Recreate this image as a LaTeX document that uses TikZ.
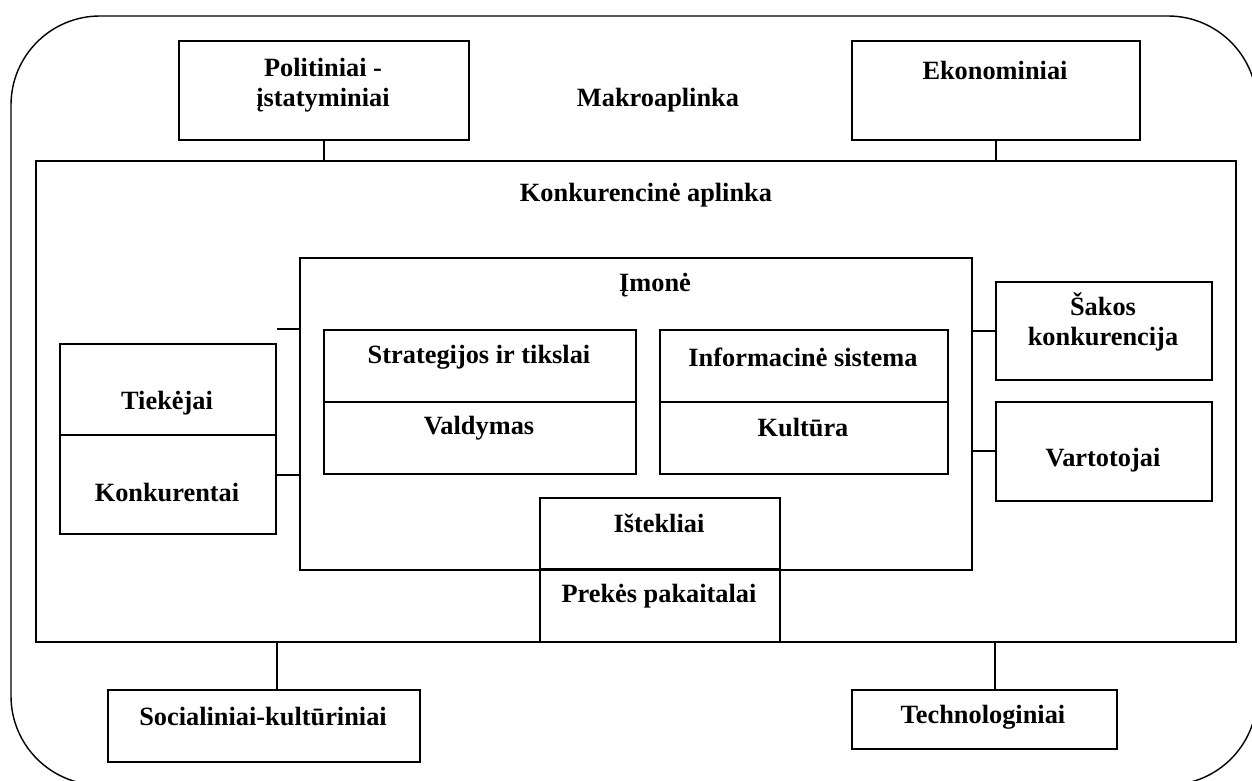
\documentclass[tikz,border=0pt]{standalone}
\usepackage{fontspec}
\setmainfont{Liberation Serif}
\usetikzlibrary{positioning}

\begin{document}
\begin{tikzpicture}[x=0.02cm,y=-0.02cm,
    box/.style={draw, line width=1.1pt, inner sep=0pt, anchor=north west},
    txt/.style={font=\bfseries\fontsize{15}{17}\selectfont, align=center, inner sep=0pt},
    link/.style={line width=1.1pt}]

            \useasboundingbox (0,0) rectangle (1252,781);
            \draw [line width=0.8pt, rounded corners=1.78cm] (11,16) rectangle (1257,785);

            \path   (178,40)  node (pol)    [box, minimum width=5.8cm,  minimum height=1.98cm] {}
                    (851,40)  node (eko)    [box, minimum width=5.76cm, minimum height=1.98cm] {}
                    (35,160)  node (konk)   [box, minimum width=24cm,   minimum height=9.62cm] {}
                    (299,257) node (imone)  [box, minimum width=13.44cm, minimum height=6.24cm] {}
                    (323,329) node (strat)  [box, minimum width=6.24cm, minimum height=1.44cm] {}
                    (323,401) node (vald)   [box, minimum width=6.24cm, minimum height=1.44cm] {}
                    (659,329) node (info)   [box, minimum width=5.76cm, minimum height=1.44cm] {}
                    (659,401) node (kult)   [box, minimum width=5.76cm, minimum height=1.44cm] {}
                    (59,343)  node (tiek)   [box, minimum width=4.32cm, minimum height=1.82cm] {}
                    (59,434)  node (konkur) [box, minimum width=4.32cm, minimum height=1.98cm] {}
                    (995,281) node (sakos)  [box, minimum width=4.32cm, minimum height=1.96cm] {}
                    (995,401) node (vart)   [box, minimum width=4.32cm, minimum height=1.98cm] {}
                    (539,497) node (istek)  [box, minimum width=4.8cm,  minimum height=1.42cm] {}
                    (539,568) node (prek)   [box, minimum width=4.8cm,  minimum height=1.46cm] {}
                    (107,689) node (soc)    [box, minimum width=6.24cm, minimum height=1.44cm] {}
                    (851,689) node (tech)   [box, minimum width=5.3cm,  minimum height=1.18cm] {};

            % texts
            \path   (323,85)   node (t-pol)    [txt] {Politiniai -\\įstatyminiai}
                    (995,70)   node (t-eko)    [txt] {Ekonominiai}
                    (658,100)  node (t-makro)  [txt] {Makroaplinka}
                    (646,195)  node (t-konk)   [txt] {Konkurencinė aplinka}
                    (655,285)  node (t-imone)  [txt] {Įmonė}
                    (479,357)  node (t-strat)  [txt] {Strategijos ir tikslai}
                    (479,428)  node (t-vald)   [txt] {Valdymas}
                    (803,357)  node (t-info)   [txt] {Informacinė sistema}
                    (803,428)  node (t-kult)   [txt] {Kultūra}
                    (167,403)  node (t-tiek)   [txt] {Tiekėjai}
                    (167,493)  node (t-konkur) [txt] {Konkurentai}
                    (1103,322) node (t-sakos)  [txt] {Šakos\\konkurencija}
                    (1103,460) node (t-vart)   [txt] {Vartotojai}
                    (659,523)  node (t-istek)  [txt] {Ištekliai}
                    (659,596)  node (t-prek)   [txt] {Prekės pakaitalai}
                    (263,717)  node (t-soc)    [txt] {Socialiniai-kultūriniai}
                    (983,717)  node (t-tech)   [txt] {Technologiniai};

            % connectors
            \draw [link] (pol.south) -- (pol.south |- konk.north);
            \draw [link] (eko.south) -- (eko.south |- konk.north);
            \draw [link] (konkur.east |- konk.south) -- (konkur.east |- soc.north);
            \draw [link] (sakos.west |- konk.south) -- (sakos.west |- tech.north);
            \draw [link] (tiek.east |- strat.north) -- (imone.west |- strat.north);
            \draw [link] (konkur.east |- vald.south) -- (imone.west |- vald.south);
            \draw [link] (sakos.west) -- (sakos.west -| imone.east);
            \draw [link] (vart.west) -- (vart.west -| imone.east);
        \end{tikzpicture}
\end{document}
